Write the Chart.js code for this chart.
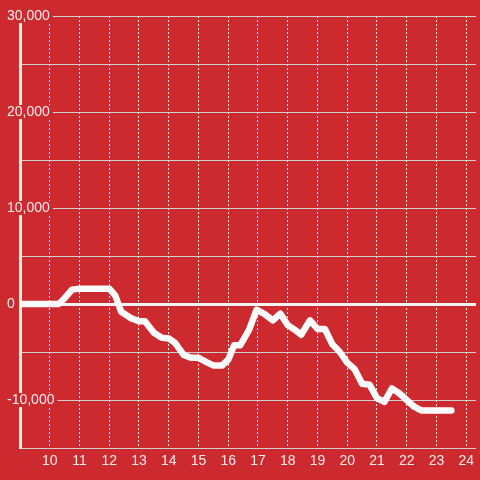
<!DOCTYPE html>
<html>
<head>
<meta charset="utf-8">
<script src="https://cdn.jsdelivr.net/npm/chart.js@4.4.1/dist/chart.umd.min.js"></script>
<style>
  html, body { margin: 0; padding: 0; background: #cc2a2f; }
  #wrap { width: 480px; height: 480px; }
</style>
</head>
<body>
<div id="wrap"><canvas id="myChart"></canvas></div>
<script>
// time of day (hours) and running value
const hours = [9.0, 10.3, 10.5, 10.75, 11.0, 12.0, 12.2, 12.4, 12.75, 13.0, 13.2, 13.5, 13.75, 14.0, 14.2, 14.5,
  14.75, 15.0, 15.3, 15.5, 15.8, 16.0, 16.2, 16.4, 16.7, 16.95, 17.2, 17.5, 17.75, 18.0, 18.25, 18.45,
  18.75, 19.0, 19.25, 19.5, 19.75, 20.0, 20.25, 20.5, 20.75, 21.0, 21.25, 21.5, 21.75, 22.0, 22.25, 22.5, 23.5];
const values = [0, 0, 600, 1500, 1600, 1600, 900, -800, -1500, -1800, -1800, -3000, -3500, -3600, -4000, -5300,
  -5600, -5600, -6100, -6400, -6400, -5800, -4300, -4300, -2700, -600, -1000, -1700, -1000, -2200, -2700, -3200,
  -1700, -2600, -2600, -4200, -5000, -6100, -6800, -8300, -8400, -9800, -10200, -8800, -9300, -10000, -10700, -11100, -11100];
const xTicks = [10, 11, 12, 13, 14, 15, 16, 17, 18, 19, 20, 21, 22, 23, 24];
const yLabeled = [-10000, 0, 10000, 20000, 30000];

const ctx = document.getElementById('myChart');
const font = { family: '"Liberation Sans", Arial, sans-serif', size: 14, lineHeight: 1 };

const myChart = new Chart(ctx, {
  type: 'line',
  data: {
    datasets: [{
      data: hours.map((h, i) => ({ x: h, y: values[i] })),
      borderColor: '#ffffff',
      borderWidth: 6.5,
      borderCapStyle: 'round',
      borderJoinStyle: 'round',
      pointRadius: 0,
      tension: 0,
      fill: false
    }]
  },
  options: {
    responsive: true,
    maintainAspectRatio: false,
    animation: false,
    layout: { padding: { top: 16, left: 7, right: 0, bottom: 0 } },
    plugins: { legend: { display: false }, tooltip: { enabled: false } },
    scales: {
      x: {
        type: 'linear',
        min: 9,
        max: 24.33,
        afterBuildTicks: (s) => { s.ticks = xTicks.map(v => ({ value: v })); },
        afterFit: (s) => { s.height = 32; },
        grid: { color: '#eeeeee', lineWidth: 1, drawTicks: false },
        border: { display: false, dash: [2, 2] },
        ticks: { color: 'rgba(255,255,255,0.9)', font: font, padding: 6, maxRotation: 0 }
      },
      y: {
        min: -15000,
        max: 30000,
        afterFit: (s) => { s.width = 13; },
        grid: {
          drawTicks: false,
          color: (c) => c.tick && c.tick.value === 0 ? '#f4f4f4' : '#cfcfcf',
          lineWidth: (c) => c.tick && c.tick.value === 0 ? 3 : 1
        },
        border: { display: true, color: '#eeeeee', width: 3 },
        ticks: {
          stepSize: 5000,
          mirror: true,
          padding: -13,
          color: 'rgba(255,255,255,0.9)',
          font: font,
          showLabelBackdrop: true,
          backdropColor: '#cc2a2f',
          backdropPadding: { left: 1, right: 3, top: 0, bottom: 0 },
          callback: (v) => yLabeled.includes(v) ? v.toLocaleString('en-US') : ''
        }
      }
    }
  }
});
</script>
</body>
</html>
